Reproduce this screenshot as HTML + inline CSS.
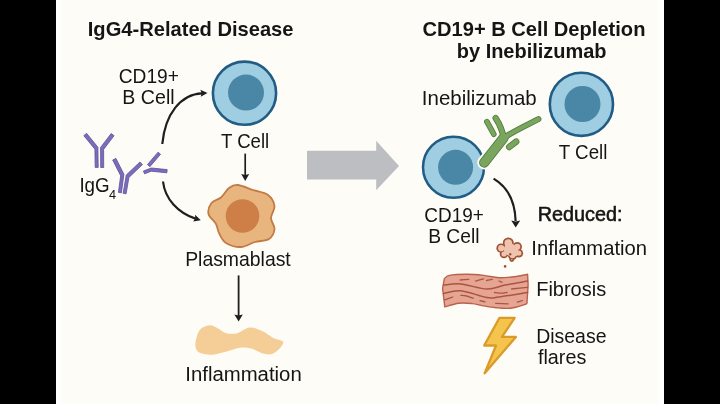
<!DOCTYPE html>
<html><head><meta charset="utf-8"><style>
html,body{margin:0;padding:0;background:#000;}
body{width:720px;height:404px;overflow:hidden;position:relative;}
#pg{position:absolute;left:56px;top:0;width:608px;height:404px;background:linear-gradient(to right,#FFFFFF 0px,#FFFFFF 3px,#FEFCF6 6px,#FEFCF6 601px,#FFFFFF 604px,#FFFFFF 608px);}
svg{position:absolute;left:0;top:0;will-change:transform;}
text{font-family:"Liberation Sans",sans-serif;fill:#151515;}
</style></head><body>
<div id="pg"></div>
<svg width="720" height="404" viewBox="0 0 720 404">
<circle cx="244.5" cy="93.2" r="31.6" fill="#9FCDE1" stroke="#215C84" stroke-width="2.6"/>
<circle cx="246" cy="92.6" r="18" fill="#4A87A6"/>
<path d="M162.3,144 C165,114 181,94 202,93.3" fill="none" stroke="#1E1E1E" stroke-width="2.2"/>
<path d="M207.50,93.00 L200.68,96.85 L201.71,93.29 L200.33,89.85 Z" fill="#1E1E1E"/>
<path d="M163,181.5 C165,199 178,213 195.5,218.6" fill="none" stroke="#1E1E1E" stroke-width="2.2"/>
<path d="M200.80,220.20 L193.09,221.54 L195.24,218.53 L195.10,214.84 Z" fill="#1E1E1E"/>
<path d="M83.81,135.64 L94.92,149.23 L95.20,167.42 L98.20,167.38 L97.88,147.17 L86.59,133.36 Z" fill="#7C6DBA" stroke="#5B4F9C" stroke-width="0.8" stroke-linejoin="round"/>
<path d="M111.17,133.51 L100.59,147.41 L100.70,167.51 L103.70,167.49 L103.61,149.39 L114.03,135.69 Z" fill="#7C6DBA" stroke="#5B4F9C" stroke-width="0.8" stroke-linejoin="round"/>
<path d="M112.69,160.01 L120.68,175.78 L118.41,192.40 L121.39,192.80 L123.92,174.22 L115.91,158.39 Z" fill="#7C6DBA" stroke="#5B4F9C" stroke-width="0.8" stroke-linejoin="round"/>
<path d="M139.96,161.99 L126.29,174.96 L123.12,193.35 L126.08,193.85 L128.91,177.44 L142.44,164.61 Z" fill="#7C6DBA" stroke="#5B4F9C" stroke-width="0.8" stroke-linejoin="round"/>
<path d="M158.08,152.16 L147.48,164.56 L149.92,166.64 L160.52,154.24 Z" fill="#7C6DBA" stroke="#5B4F9C" stroke-width="0.8" stroke-linejoin="round"/>
<path d="M144.54,173.80 L151.30,171.21 L166.84,172.79 L167.16,169.61 L151.30,167.99 L143.46,171.00 Z" fill="#7C6DBA" stroke="#5B4F9C" stroke-width="0.8" stroke-linejoin="round"/>
<path d="M245.2,153.6 L245.2,175" fill="none" stroke="#1E1E1E" stroke-width="1.7"/>
<path d="M245.20,181.00 L241.20,174.00 L245.20,175.00 L249.20,174.00 Z" fill="#1E1E1E"/>
<path d="M238.6,275.4 L238.6,316" fill="none" stroke="#1E1E1E" stroke-width="1.8"/>
<path d="M238.60,321.60 L234.40,314.60 L238.60,315.60 L242.80,314.60 Z" fill="#1E1E1E"/>
<path d="M237.60,185.00 C241.60,185.33 247.93,188.33 253.00,190.00 C258.07,191.67 264.42,192.33 268.00,195.00 C271.58,197.67 274.00,202.17 274.50,206.00 C275.00,209.83 271.00,214.17 271.00,218.00 C271.00,221.83 274.83,225.50 274.50,229.00 C274.17,232.50 272.25,236.83 269.00,239.00 C265.75,241.17 259.67,240.67 255.00,242.00 C250.33,243.33 245.83,246.83 241.00,247.00 C236.17,247.17 229.67,245.33 226.00,243.00 C222.33,240.67 220.67,236.17 219.00,233.00 C217.33,229.83 217.75,227.17 216.00,224.00 C214.25,220.83 209.25,217.50 208.50,214.00 C207.75,210.50 209.42,205.75 211.50,203.00 C213.58,200.25 218.08,200.00 221.00,197.50 C223.92,195.00 226.23,190.08 229.00,188.00 C231.77,185.92 233.60,184.67 237.60,185.00 Z" fill="#E9B57F" stroke="#C27B45" stroke-width="1.8"/>
<circle cx="242.5" cy="216" r="16.8" fill="#CE7F47"/>
<path d="M195.60,342.20 C196.17,339.00 197.40,332.82 199.70,330.00 C202.00,327.18 206.38,325.58 209.40,325.30 C212.42,325.02 215.02,326.98 217.80,328.30 C220.58,329.62 222.87,332.38 226.10,333.20 C229.33,334.02 233.27,334.13 237.20,333.20 C241.13,332.27 245.53,327.95 249.70,327.60 C253.87,327.25 258.27,329.37 262.20,331.10 C266.13,332.83 269.83,336.27 273.30,338.00 C276.77,339.73 281.83,339.87 283.00,341.50 C284.17,343.13 282.15,345.72 280.30,347.80 C278.45,349.88 274.92,353.08 271.90,354.00 C268.88,354.92 265.67,354.22 262.20,353.30 C258.73,352.38 254.80,349.42 251.10,348.50 C247.40,347.58 243.93,347.34 240.00,347.80 C236.07,348.26 232.13,350.10 227.50,351.25 C222.87,352.40 216.60,354.36 212.20,354.70 C207.80,355.04 203.76,354.22 201.10,353.30 C198.44,352.38 197.17,351.05 196.25,349.20 C195.33,347.35 195.03,345.40 195.60,342.20 Z" fill="#F4CD97"/>
<path d="M307,150.7 L376.2,150.7 L376.2,140.8 L399,166 L376.2,190.3 L376.2,179.5 L307,179.5 Z" fill="#BDBEC2"/>
<circle cx="453.5" cy="167.3" r="30.5" fill="#9FCDE1" stroke="#215C84" stroke-width="2.5"/>
<circle cx="455.6" cy="167.3" r="17.5" fill="#4A87A6"/>
<path d="M484.2,162.6 L503.6,137.8" stroke="#FEFCF6" stroke-width="13.80" stroke-linecap="round" stroke-linejoin="round" fill="none"/>
<path d="M484.2,162.6 L503.6,137.8" stroke="#4F7B3C" stroke-width="10.20" stroke-linecap="round" stroke-linejoin="round" fill="none"/>
<path d="M503.2,138.4 C512,132 526,125.5 538.4,119.2" stroke="#4F7B3C" stroke-width="6.00" stroke-linecap="round" stroke-linejoin="round" fill="none"/>
<path d="M495.6,118.0 C499.5,124 502.5,130 503.8,138.5" stroke="#4F7B3C" stroke-width="6.20" stroke-linecap="round" stroke-linejoin="round" fill="none"/>
<path d="M486.9,121.6 L493.8,134.2" stroke="#4F7B3C" stroke-width="5.60" stroke-linecap="round" stroke-linejoin="round" fill="none"/>
<path d="M509.2,147.0 L516.2,141.6" stroke="#4F7B3C" stroke-width="6.40" stroke-linecap="round" stroke-linejoin="round" fill="none"/>
<path d="M484.2,162.6 L503.6,137.8" stroke="#79A55F" stroke-width="8.60" stroke-linecap="round" stroke-linejoin="round" fill="none"/>
<path d="M503.2,138.4 C512,132 526,125.5 538.4,119.2" stroke="#79A55F" stroke-width="4.40" stroke-linecap="round" stroke-linejoin="round" fill="none"/>
<path d="M495.6,118.0 C499.5,124 502.5,130 503.8,138.5" stroke="#79A55F" stroke-width="4.60" stroke-linecap="round" stroke-linejoin="round" fill="none"/>
<path d="M486.9,121.6 L493.8,134.2" stroke="#79A55F" stroke-width="4.00" stroke-linecap="round" stroke-linejoin="round" fill="none"/>
<path d="M509.2,147.0 L516.2,141.6" stroke="#79A55F" stroke-width="4.80" stroke-linecap="round" stroke-linejoin="round" fill="none"/>
<circle cx="581.4" cy="104.3" r="31.6" fill="#9FCDE1" stroke="#215C84" stroke-width="2.6"/>
<circle cx="582.5" cy="104" r="18" fill="#4A87A6"/>
<path d="M493.6,178.6 C506,186 515,200 515.6,221" fill="none" stroke="#1E1E1E" stroke-width="2.2"/>
<path d="M515.70,227.40 L511.20,220.40 L515.70,221.40 L520.20,220.40 Z" fill="#1E1E1E"/>
<circle cx="508.3" cy="243" r="5.5" fill="#9E5135"/>
<circle cx="517.2" cy="246.8" r="4.8" fill="#9E5135"/>
<circle cx="518.8" cy="253.2" r="4.3" fill="#9E5135"/>
<circle cx="512.5" cy="255.5" r="4.5" fill="#9E5135"/>
<circle cx="504" cy="254" r="4.3" fill="#9E5135"/>
<circle cx="501.2" cy="248.2" r="4.8" fill="#9E5135"/>
<circle cx="511.8" cy="259.6" r="2.4" fill="#9E5135"/>
<circle cx="508.3" cy="243" r="3.80" fill="#EFC3AE"/>
<circle cx="517.2" cy="246.8" r="3.10" fill="#EFC3AE"/>
<circle cx="518.8" cy="253.2" r="2.60" fill="#EFC3AE"/>
<circle cx="512.5" cy="255.5" r="2.80" fill="#EFC3AE"/>
<circle cx="504" cy="254" r="2.60" fill="#EFC3AE"/>
<circle cx="501.2" cy="248.2" r="3.10" fill="#EFC3AE"/>
<circle cx="511.8" cy="259.6" r="0.70" fill="#EFC3AE"/>
<circle cx="510" cy="249.5" r="6.2" fill="#EFC3AE"/>
<circle cx="514" cy="252" r="4.5" fill="#EFC3AE"/>
<circle cx="510.2" cy="254.2" r="1.2" fill="#9E5135"/>
<circle cx="505.1" cy="266.4" r="1.3" fill="#9E5135"/>
<path d="M444.30,278.80 C445.15,278.23 445.70,276.15 449.40,275.40 C453.10,274.65 460.80,274.30 466.50,274.30 C472.20,274.30 478.18,274.83 483.60,275.40 C489.02,275.97 493.57,277.52 499.00,277.70 C504.43,277.88 511.43,277.07 516.20,276.50 C520.97,275.93 525.70,274.67 527.60,274.30 L528.1,285.1 L527.00,302.20 C526.72,302.57 528.05,303.40 525.30,304.40 C522.55,305.40 515.38,307.65 510.50,308.20 C505.62,308.75 500.75,308.13 496.00,307.70 C491.25,307.27 485.97,306.28 482.00,305.60 C478.03,304.92 476.07,304.00 472.20,303.60 C468.32,303.20 463.32,302.65 458.75,303.20 C454.18,303.75 447.12,306.28 444.80,306.90  L442.6,288.5 Z" fill="#E6A492" stroke="#B9614A" stroke-width="1.4" stroke-linejoin="round"/>
<path d="M443.50,285.10 C446.38,284.92 453.55,283.35 460.80,284.00 C468.05,284.65 479.67,288.82 487.00,289.00 C494.33,289.18 498.03,286.42 504.80,285.10 C511.57,283.78 523.80,281.77 527.60,281.10 " fill="none" stroke="#AA5540" stroke-width="1.5" stroke-linecap="round"/>
<path d="M443.50,293.60 C446.38,293.13 453.55,290.13 460.80,290.80 C468.05,291.47 480.63,296.57 487.00,297.60 C493.37,298.63 492.23,297.85 499.00,297.00 C505.77,296.15 522.83,293.25 527.60,292.50 " fill="none" stroke="#AA5540" stroke-width="1.5" stroke-linecap="round"/>
<path d="M444.80,299.90 C446.13,299.42 451.47,297.48 452.80,297.00 " fill="none" stroke="#AA5540" stroke-width="1.3" stroke-linecap="round"/>
<path d="M460.20,280.00 C461.63,279.90 467.37,279.50 468.80,279.40 " fill="none" stroke="#AA5540" stroke-width="1.3" stroke-linecap="round"/>
<path d="M475.60,281.10 C476.93,280.72 482.27,279.18 483.60,278.80 " fill="none" stroke="#AA5540" stroke-width="1.3" stroke-linecap="round"/>
<path d="M460.80,295.30 C461.75,295.42 464.42,295.52 466.50,296.00 C468.58,296.48 472.17,297.83 473.30,298.20 " fill="none" stroke="#AA5540" stroke-width="1.3" stroke-linecap="round"/>
<path d="M511.60,289.00 C514.27,288.73 524.93,287.67 527.60,287.40 " fill="none" stroke="#AA5540" stroke-width="1.3" stroke-linecap="round"/>
<path d="M494.50,292.50 C495.58,292.62 498.92,293.20 501.00,293.20 C503.08,293.20 506.00,292.62 507.00,292.50 " fill="none" stroke="#AA5540" stroke-width="1.3" stroke-linecap="round"/>
<path d="M495.70,303.40 C497.78,303.47 506.12,303.73 508.20,303.80 " fill="none" stroke="#AA5540" stroke-width="1.3" stroke-linecap="round"/>
<path d="M480.00,300.60 C480.83,300.82 484.17,301.68 485.00,301.90 " fill="none" stroke="#AA5540" stroke-width="1.3" stroke-linecap="round"/>
<path d="M517.30,302.20 C518.15,301.92 521.55,300.78 522.40,300.50 " fill="none" stroke="#AA5540" stroke-width="1.3" stroke-linecap="round"/>
<path d="M486.60,280.50 C487.55,280.32 491.35,279.58 492.30,279.40 " fill="none" stroke="#AA5540" stroke-width="1.3" stroke-linecap="round"/>
<path d="M499.00,281.00 C499.50,281.20 501.50,282.00 502.00,282.20 " fill="none" stroke="#AA5540" stroke-width="1.3" stroke-linecap="round"/>
<path d="M499.5,317.8 L514.7,317.8 L502,336.9 L515.9,336.9 L484.7,373.3 L496,345.5 L484.2,345.5 Z" fill="#F4C44D" stroke="#DA9B2A" stroke-width="2.3" stroke-linejoin="round"/>
<text x="87.79" y="35.70" font-size="20.63" font-weight="700" textLength="205.73" lengthAdjust="spacingAndGlyphs">IgG4-Related Disease</text>
<text x="422.50" y="35.80" font-size="20.91" font-weight="700" textLength="222.93" lengthAdjust="spacingAndGlyphs">CD19+ B Cell Depletion</text>
<text x="456.80" y="57.50" font-size="20.35" font-weight="700" textLength="149.71" lengthAdjust="spacingAndGlyphs">by Inebilizumab</text>
<text x="118.74" y="82.90" font-size="20.60" font-weight="400" textLength="60.20" lengthAdjust="spacingAndGlyphs">CD19+</text>
<text x="122.33" y="103.60" font-size="20.74" font-weight="400" textLength="52.29" lengthAdjust="spacingAndGlyphs">B Cell</text>
<text x="220.93" y="148.40" font-size="20.74" font-weight="400" textLength="48.32" lengthAdjust="spacingAndGlyphs">T Cell</text>
<text x="79.41" y="191.70" font-size="19.44" font-weight="400" textLength="30.26" lengthAdjust="spacingAndGlyphs">IgG</text>
<text x="108.95" y="199.00" font-size="13.25" font-weight="400" textLength="7.09" lengthAdjust="spacingAndGlyphs">4</text>
<text x="185.15" y="266.30" font-size="19.59" font-weight="400" textLength="105.61" lengthAdjust="spacingAndGlyphs">Plasmablast</text>
<text x="185.27" y="381.00" font-size="21.03" font-weight="400" textLength="116.47" lengthAdjust="spacingAndGlyphs">Inflammation</text>
<text x="421.86" y="104.90" font-size="20.16" font-weight="400" textLength="114.88" lengthAdjust="spacingAndGlyphs">Inebilizumab</text>
<text x="558.83" y="158.80" font-size="21.03" font-weight="400" textLength="48.53" lengthAdjust="spacingAndGlyphs">T Cell</text>
<text x="424.25" y="221.50" font-size="20.60" font-weight="400" textLength="59.58" lengthAdjust="spacingAndGlyphs">CD19+</text>
<text x="428.16" y="242.60" font-size="20.60" font-weight="400" textLength="51.34" lengthAdjust="spacingAndGlyphs">B Cell</text>
<text x="537.72" y="221.40" font-size="19.30" font-weight="400" textLength="84.72" lengthAdjust="spacingAndGlyphs" stroke="#151515" stroke-width="0.55">Reduced:</text>
<text x="531.28" y="254.70" font-size="19.44" font-weight="400" textLength="115.76" lengthAdjust="spacingAndGlyphs">Inflammation</text>
<text x="536.20" y="296.30" font-size="20.31" font-weight="400" textLength="70.00" lengthAdjust="spacingAndGlyphs">Fibrosis</text>
<text x="536.14" y="342.50" font-size="20.31" font-weight="400" textLength="70.36" lengthAdjust="spacingAndGlyphs">Disease</text>
<text x="538.00" y="364.00" font-size="20.31" font-weight="400" textLength="48.29" lengthAdjust="spacingAndGlyphs">flares</text>
</svg>
</body></html>
